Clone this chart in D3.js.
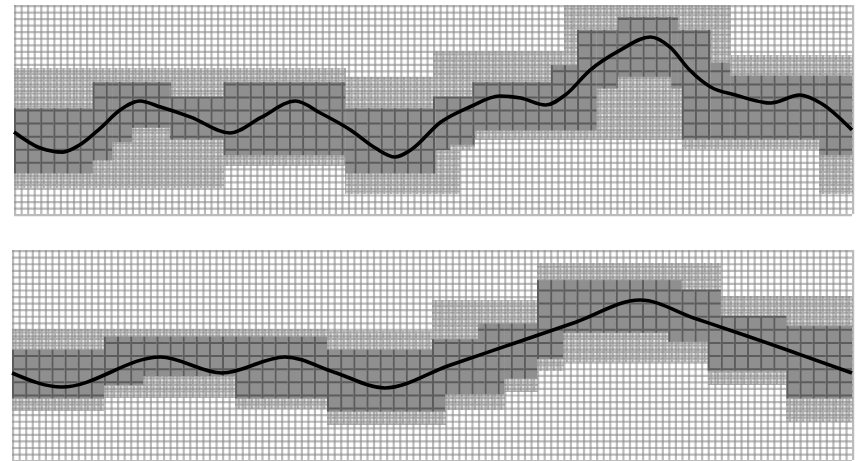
<!DOCTYPE html>
<html>
<head>
<meta charset="utf-8">
<script src="https://cdn.jsdelivr.net/npm/d3@7"></script>
<style>
  html, body { margin: 0; padding: 0; background: #ffffff; }
  svg { display: block; }
</style>
</head>
<body>
<svg id="chart" width="866" height="461"></svg>
<script>
// Grid size of each panel (columns x rows of cells)
const nCols = 64;
const nRows = 16;

// Upper panel: curve points [column, row]
const topCurve = [
  [0, 9.72], [2.0, 10.95], [3.7, 11.26], [5.0, 10.72], [6.6, 9.42], [8.1, 8.04],
  [9.6, 7.35], [11.2, 7.81], [13.5, 8.58], [16.5, 9.8], [18.8, 8.65], [21.5, 7.35],
  [23.4, 8.27], [25.7, 9.57], [27.6, 10.95], [29.1, 11.64], [30.3, 11.1], [32.6, 8.96],
  [34.8, 7.81], [37.1, 6.97], [38.7, 7.12], [40.6, 7.66], [42.1, 6.89], [44.0, 4.98],
  [46.3, 3.45], [48.6, 2.45], [50.1, 3.22], [51.6, 4.98], [53.2, 6.28], [55.1, 6.89],
  [57.8, 7.5], [60.0, 6.89], [61.6, 7.5], [64, 9.57]
];
// Upper panel band edges as steps [start column, row]
const topOuterTop = [[0, 4.8], [25.3, 5.5], [32, 3.5], [42, 0], [54.7, 3.8]];
const topInnerTop = [[0, 7.9], [6, 5.9], [12, 7], [16, 5.9], [25.3, 7.9], [32, 7], [35, 5.9], [41, 4.6], [43, 1.9], [46.1, 0.9], [50.7, 1.9], [53.2, 4.4], [54.7, 5.4]];
const topInnerBottom = [[0, 12.9], [6, 11.9], [7.5, 10.5], [9, 9.4], [11.9, 10.3], [16, 11.5], [25.3, 12.9], [32.2, 11.1], [33.3, 10.7], [35.2, 9.6], [44.5, 6.4], [46.1, 5.5], [50.2, 6.4], [51, 10.3], [61.5, 11.5]];
const topOuterBottom = [[0, 14], [16, 12.3], [25.3, 14.5], [34, 11.1], [35.2, 10.3], [51, 11], [61.5, 14.5]];

// Lower panel: curve points [column, row]
const bottomCurve = [
  [0, 9.37], [3.8, 10.44], [11.3, 8.15], [16.0, 9.37], [20.8, 8.15], [24.6, 9.33],
  [28.4, 10.51], [33.3, 8.8], [38.1, 7.16], [43.0, 5.48], [47.85, 3.81],
  [52.0, 5.2], [56.0, 6.55], [60.0, 7.95], [64, 9.37]
];
// Lower panel band edges as steps [start column, row]
const bottomOuterTop = [[0, 6], [24, 6.2], [32, 3.8], [40, 1], [54, 3.5]];
const bottomInnerTop = [[0, 7.6], [7, 6.6], [24, 7.6], [32, 6.8], [35.5, 5.6], [40, 2.3], [51, 3], [54, 5], [59, 5.8]];
const bottomInnerBottom = [[0, 11.3], [7, 10.3], [10, 9.6], [17, 11.3], [24, 12.3], [33, 11], [37.5, 9.8], [40, 8.3], [42, 6.3], [50, 7], [53, 9.2], [59, 11.3]];
const bottomOuterBottom = [[0, 12.3], [7, 11.3], [17, 12.1], [24, 13.3], [33, 12.2], [37.5, 10.8], [40, 9.2], [42, 8.5], [53, 10.3], [59, 13.1]];

const svg = d3.select("#chart");
const defs = svg.append("defs");

// value of a step list at a column
function stepAt(steps, c) {
  let v = steps[0][1];
  for (const s of steps) { if (s[0] <= c + 1e-6) v = s[1]; }
  return v;
}

function drawPanel(id, xRange, yRange, curve, oTop, iTop, iBot, oBot) {
  const x = d3.scaleLinear().domain([0, nCols]).range(xRange);
  const y = d3.scaleLinear().domain([0, nRows]).range(yRange);
  const cw = x(1) - x(0), ch = y(1) - y(0);
  const g = svg.append("g");

  // column boundaries: integer columns plus any fractional step starts
  const cuts = new Set(d3.range(0, nCols + 1));
  [oTop, iTop, iBot, oBot].forEach(s => s.forEach(p => cuts.add(p[0])));
  const xs = Array.from(cuts).sort((a, b) => a - b);
  const segs = [];
  for (let i = 0; i < xs.length - 1; i++) {
    const c0 = xs[i], c1 = xs[i + 1];
    segs.push({ c0, c1, ot: stepAt(oTop, c0), it: stepAt(iTop, c0), ib: stepAt(iBot, c0), ob: stepAt(oBot, c0) });
  }

  // fine texture used for the outer band
  const pat = defs.append("pattern")
    .attr("id", id + "-outer")
    .attr("patternUnits", "userSpaceOnUse")
    .attr("x", x(0) + cw / 4 - 0.5).attr("y", y(0) + ch / 4 - 0.5)
    .attr("width", cw / 2).attr("height", ch / 2);
  pat.append("rect").attr("width", cw / 2).attr("height", ch / 2).attr("fill", "#e4e4e4");
  pat.append("rect").attr("width", 1.8).attr("height", ch / 2).attr("fill", "#acacac");
  pat.append("rect").attr("width", cw / 2).attr("height", 1.8).attr("fill", "#acacac");

  // clip for the inner band
  const clip = defs.append("clipPath").attr("id", id + "-inner");
  segs.forEach(s => {
    clip.append("rect")
      .attr("x", x(s.c0)).attr("width", x(s.c1) - x(s.c0))
      .attr("y", y(s.it)).attr("height", Math.max(0, y(s.ib) - y(s.it)));
  });

  // panel background
  g.append("rect")
    .attr("x", x(0)).attr("y", y(0))
    .attr("width", x(nCols) - x(0)).attr("height", y(nRows) - y(0))
    .attr("fill", "#ffffff");

  // outer band
  g.append("g").selectAll("rect").data(segs).join("rect")
    .attr("shape-rendering", "crispEdges")
    .attr("x", d => x(d.c0)).attr("width", d => x(d.c1) - x(d.c0) + 0.5)
    .attr("y", d => y(d.ot)).attr("height", d => Math.max(0, y(d.ob) - y(d.ot)))
    .attr("fill", `url(#${id}-outer)`);

  // light half-cell grid
  const half = d3.range(0, nCols * 2 + 1).map(i => i / 2);
  const halfR = d3.range(0, nRows * 2 + 1).map(i => i / 2);
  const grid = g.append("g").attr("stroke", "#8a8a8a").attr("stroke-opacity", 0.58).attr("stroke-width", 2.2);
  grid.selectAll("line.v").data(half).join("line").attr("class", "v")
    .attr("x1", d => x(d) + 1.1).attr("x2", d => x(d) + 1.1)
    .attr("y1", y(0)).attr("y2", y(nRows));
  grid.selectAll("line.h").data(halfR).join("line").attr("class", "h")
    .attr("y1", d => y(d) + 1.1).attr("y2", d => y(d) + 1.1)
    .attr("x1", x(0)).attr("x2", x(nCols));

  // inner band
  const inner = g.append("g").attr("clip-path", `url(#${id}-inner)`);
  inner.append("rect")
    .attr("x", x(0)).attr("y", y(0))
    .attr("width", x(nCols) - x(0)).attr("height", y(nRows) - y(0))
    .attr("fill", "#8f8f8f");
  const dark = inner.append("g").attr("stroke", "#5c5c5c").attr("stroke-width", 2);
  dark.selectAll("line.v").data(d3.range(0, nCols + 1)).join("line").attr("class", "v")
    .attr("x1", d => x(d) + 1).attr("x2", d => x(d) + 1)
    .attr("y1", y(0)).attr("y2", y(nRows));
  dark.selectAll("line.h").data(d3.range(0, nRows + 1)).join("line").attr("class", "h")
    .attr("y1", d => y(d) + 1).attr("y2", d => y(d) + 1)
    .attr("x1", x(0)).attr("x2", x(nCols));

  // curve
  const line = d3.line().x(d => x(d[0])).y(d => y(d[1])).curve(d3.curveMonotoneX);
  g.append("path").datum(curve)
    .attr("d", line)
    .attr("fill", "none")
    .attr("stroke", "#000000")
    .attr("stroke-width", 3.6)
    .attr("stroke-linejoin", "round");
}

drawPanel("upper", [14, 852], [5, 214], topCurve, topOuterTop, topInnerTop, topInnerBottom, topOuterBottom);
drawPanel("lower", [12, 852], [250, 460], bottomCurve, bottomOuterTop, bottomInnerTop, bottomInnerBottom, bottomOuterBottom);
</script>
</body>
</html>
